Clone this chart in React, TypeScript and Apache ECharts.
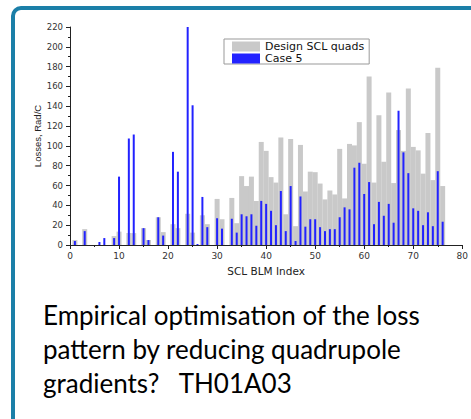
import React, { useEffect, useRef } from "react";
import * as echarts from "echarts";

// SCL beam-loss-monitor losses (Rad/C) per BLM index 1..76
const designLosses = [
  5, 0, 16, 0, 0, 0, 0, 0, 9, 13.5,
  0, 12, 12, 0, 17, 5, 0, 28, 13, 0,
  21, 17, 0, 31.5, 12.5, 0, 30, 21, 0, 46.5,
  26, 0, 47.5, 22, 69.5, 59.5, 69, 44.5, 104, 95,
  68.5, 63, 108.5, 31, 107, 19, 101, 54, 74, 73.5,
  62, 46, 55, 51, 97, 47, 102, 100.5, 124, 82,
  170, 63, 131, 84, 154, 62.5, 116, 95, 158, 99,
  95.5, 72, 113, 65.5, 179, 59.5,
];

const case5Losses = [
  4, 0, 14, 0, 0, 3, 7, 0, 7, 69,
  0, 107.5, 111.5, 0, 17, 5, 0, 28, 9.5, 0,
  94, 74, 0, 220, 141, 1, 48.5, 18, 0, 27,
  16.5, 0, 26.5, 12.5, 31, 29, 31, 19.5, 44.5, 41.5,
  34.5, 20, 54.5, 14, 59.5, 4, 49, 18.5, 26, 26,
  18, 14, 16, 16, 28, 38, 36, 78, 83, 51.5,
  63.5, 21, 43.5, 29.5, 41.5, 22.5, 135.5, 93.5, 72.5, 37,
  34.5, 20, 33, 19, 74.5, 23.5,
];

const seriesNames = ["Design SCL quads", "Case 5"];
const captionLines = [
  "Empirical optimisation of the loss",
  "pattern by reducing quadrupole",
  "gradients?   TH01A03",
];

const toPoints = (values: number[]) => values.map((v, i) => [i + 1, v]);

export default function App() {
  const ref = useRef<HTMLDivElement>(null);

  useEffect(() => {
    if (!ref.current) return;
    const chart = echarts.init(ref.current, undefined, { renderer: "svg" });
    const axisColor = "#222";
    const xAxisBase = {
      type: "value",
      min: 0,
      max: 80,
      interval: 10,
    };
    chart.setOption({
      animation: false,
      backgroundColor: "#ffffff",
      grid: { left: 70, right: 6, top: 27, bottom: 174 },
      legend: {
        orient: "vertical",
        left: 224,
        top: 39,
        padding: [2, 5, 0, 8],
        itemGap: 1,
        itemWidth: 28,
        itemHeight: 10,
        borderColor: "#999",
        borderWidth: 1,
        icon: "rect",
        backgroundColor: "#fff",
        textStyle: {
          fontFamily: "DejaVu Sans",
          fontSize: 11,
          lineHeight: 11,
          color: "#111",
        },
        data: seriesNames,
      },
      xAxis: [
        {
          ...xAxisBase,
          name: "SCL BLM Index",
          nameLocation: "middle",
          nameGap: 20,
          nameMoveOverlap: false,
          nameTextStyle: {
            fontFamily: "DejaVu Sans",
            fontSize: 10.5,
            color: "#222",
          },
          axisLine: { show: true, lineStyle: { color: axisColor, width: 1 } },
          axisTick: { show: true, length: 4, lineStyle: { color: axisColor } },
          minorTick: { show: true, splitNumber: 2, length: 2, lineStyle: { color: axisColor } },
          splitLine: { show: false },
          axisLabel: {
            margin: 6,
            fontFamily: "DejaVu Sans",
            fontSize: 9,
            color: "#333",
          },
        },
        { ...xAxisBase, show: false },
      ],
      yAxis: {
        type: "value",
        min: 0,
        max: 220,
        interval: 20,
        name: "Losses, Rad/C",
        nameLocation: "middle",
        nameGap: 28,
        nameMoveOverlap: false,
        nameTextStyle: {
          fontFamily: "Liberation Sans",
          fontSize: 9.5,
          color: "#222",
        },
        axisLine: { show: true, lineStyle: { color: axisColor, width: 1 } },
        axisTick: { show: true, length: 4, lineStyle: { color: axisColor } },
        minorTick: { show: true, splitNumber: 2, length: 2, lineStyle: { color: axisColor } },
        splitLine: { show: false },
        axisLabel: {
          margin: 7,
          fontFamily: "DejaVu Sans",
          fontSize: 8.5,
          color: "#333",
        },
      },
      series: [
        {
          name: seriesNames[0],
          type: "bar",
          xAxisIndex: 0,
          barWidth: 5,
          itemStyle: { color: "#c9c9c9" },
          data: toPoints(designLosses),
          z: 2,
        },
        {
          name: seriesNames[1],
          type: "bar",
          xAxisIndex: 1,
          barWidth: 2,
          itemStyle: { color: "#2222ff" },
          data: toPoints(case5Losses),
          z: 3,
        },
      ],
      graphic: [
        {
          type: "rect",
          shape: { x: 13, y: 8, width: 540, height: 540, r: 8 },
          style: { fill: "none", stroke: "#1b7fa8", lineWidth: 4 },
          silent: true,
        },
        ...captionLines.map((line, i) => ({
          type: "text",
          x: 43,
          y: 302 + i * 33.8,
          style: {
            text: line,
            fontFamily: "Lato",
            fontSize: 26,
            fill: "#000",
            verticalAlign: "top",
          },
        })),
      ],
    });
    return () => chart.dispose();
  }, []);

  return (
    <div
      ref={ref}
      style={{ position: "absolute", left: 0, top: 0, width: 471, height: 419 }}
    />
  );
}
